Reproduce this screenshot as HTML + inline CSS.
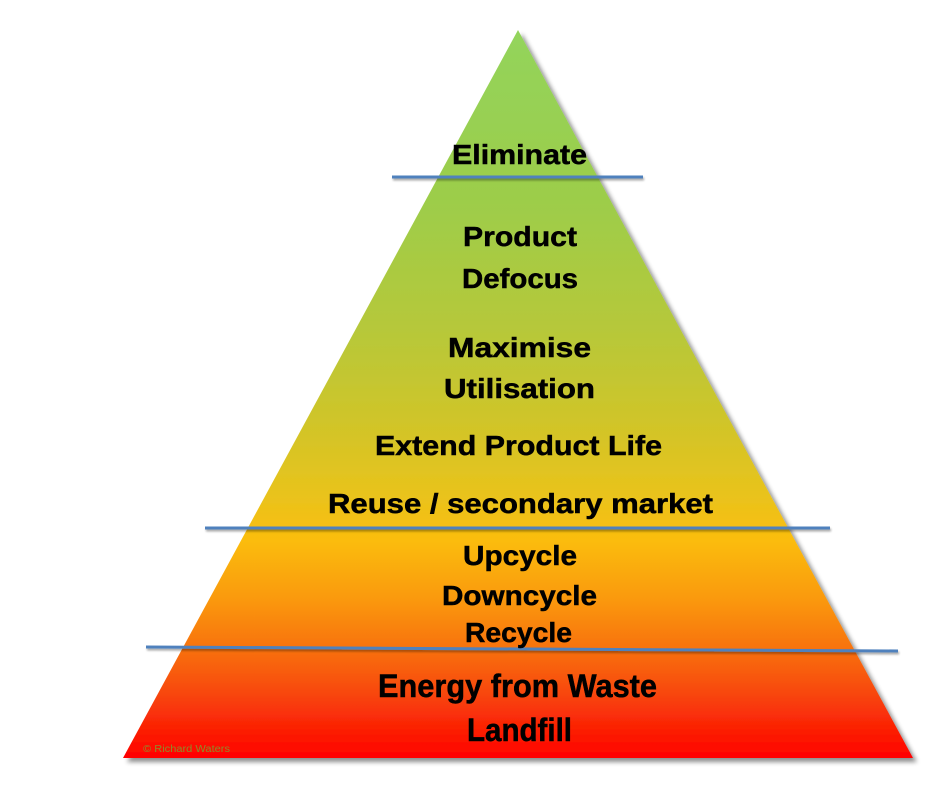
<!DOCTYPE html>
<html>
<head>
<meta charset="utf-8">
<style>
  html, body { margin:0; padding:0; background:#ffffff; }
  body { width:952px; height:792px; overflow:hidden; }
  svg { display:block; }
  text { font-family: "Liberation Sans", Arial, sans-serif; font-weight:bold; fill:#000; }
</style>
</head>
<body>
<svg width="952" height="792" viewBox="0 0 952 792" xmlns="http://www.w3.org/2000/svg">
  <defs>
    <linearGradient id="pg" x1="0" y1="30" x2="0" y2="758" gradientUnits="userSpaceOnUse">
      <stop offset="0" stop-color="#93d45c"/>
      <stop offset="0.23" stop-color="#9ccd4a"/>
      <stop offset="0.41" stop-color="#b6c83a"/>
      <stop offset="0.53" stop-color="#cec52a"/>
      <stop offset="0.64" stop-color="#e9c31c"/>
      <stop offset="0.70" stop-color="#fbbd0e"/>
      <stop offset="0.78" stop-color="#fa9a0b"/>
      <stop offset="0.85" stop-color="#f8720a"/>
      <stop offset="0.92" stop-color="#f8400a"/>
      <stop offset="1" stop-color="#ff0000"/>
    </linearGradient>
    <filter id="sh" x="-10%" y="-10%" width="130%" height="130%">
      <feGaussianBlur in="SourceAlpha" stdDeviation="2.5"/>
      <feOffset dx="4" dy="4" result="b"/>
      <feComponentTransfer><feFuncA type="linear" slope="0.45"/></feComponentTransfer>
      <feMerge><feMergeNode/><feMergeNode in="SourceGraphic"/></feMerge>
    </filter>
    <filter id="lsh" x="-5%" y="-200%" width="110%" height="500%">
      <feGaussianBlur in="SourceAlpha" stdDeviation="1"/>
      <feOffset dx="1" dy="2" result="b"/>
      <feComponentTransfer><feFuncA type="linear" slope="0.35"/></feComponentTransfer>
      <feMerge><feMergeNode/><feMergeNode in="SourceGraphic"/></feMerge>
    </filter>
  </defs>

  <!-- pyramid -->
  <polygon points="518,30 123,758 913,758" fill="url(#pg)" filter="url(#sh)"/>

  <!-- divider lines -->
  <g filter="url(#lsh)" stroke="#4f81bd" stroke-width="3">
    <line x1="392" y1="177" x2="643" y2="177"/>
    <line x1="205" y1="528" x2="830" y2="528"/>
    <line x1="146" y1="647" x2="898" y2="651"/>
  </g>

  <!-- labels -->
  <g text-anchor="middle" font-size="28" stroke="#000" stroke-width="0.5">
    <text x="519.5" y="164" textLength="135" lengthAdjust="spacingAndGlyphs">Eliminate</text>
    <text x="520" y="246" textLength="114" lengthAdjust="spacingAndGlyphs">Product</text>
    <text x="520" y="288" textLength="116" lengthAdjust="spacingAndGlyphs">Defocus</text>
    <text x="519.5" y="357" textLength="143" lengthAdjust="spacingAndGlyphs">Maximise</text>
    <text x="519.5" y="398" textLength="151" lengthAdjust="spacingAndGlyphs">Utilisation</text>
    <text x="518.5" y="455" textLength="287" lengthAdjust="spacingAndGlyphs">Extend Product Life</text>
    <text x="520.5" y="513" textLength="385" lengthAdjust="spacingAndGlyphs">Reuse / secondary market</text>
    <text x="520" y="565" textLength="114" lengthAdjust="spacingAndGlyphs">Upcycle</text>
    <text x="519.5" y="605" textLength="155" lengthAdjust="spacingAndGlyphs">Downcycle</text>
    <text x="518.5" y="642" textLength="107" lengthAdjust="spacingAndGlyphs">Recycle</text>
  </g>
  <g text-anchor="middle" font-size="32" stroke="#000" stroke-width="0.5">
    <text x="517.5" y="697" textLength="279" lengthAdjust="spacingAndGlyphs">Energy from Waste</text>
    <text x="519.5" y="741" textLength="105" lengthAdjust="spacingAndGlyphs">Landfill</text>
  </g>

  <text x="143" y="752" font-size="10" style="font-weight:normal;fill:#8f8a2a" textLength="87" lengthAdjust="spacingAndGlyphs">© Richard Waters</text>
</svg>
</body>
</html>
